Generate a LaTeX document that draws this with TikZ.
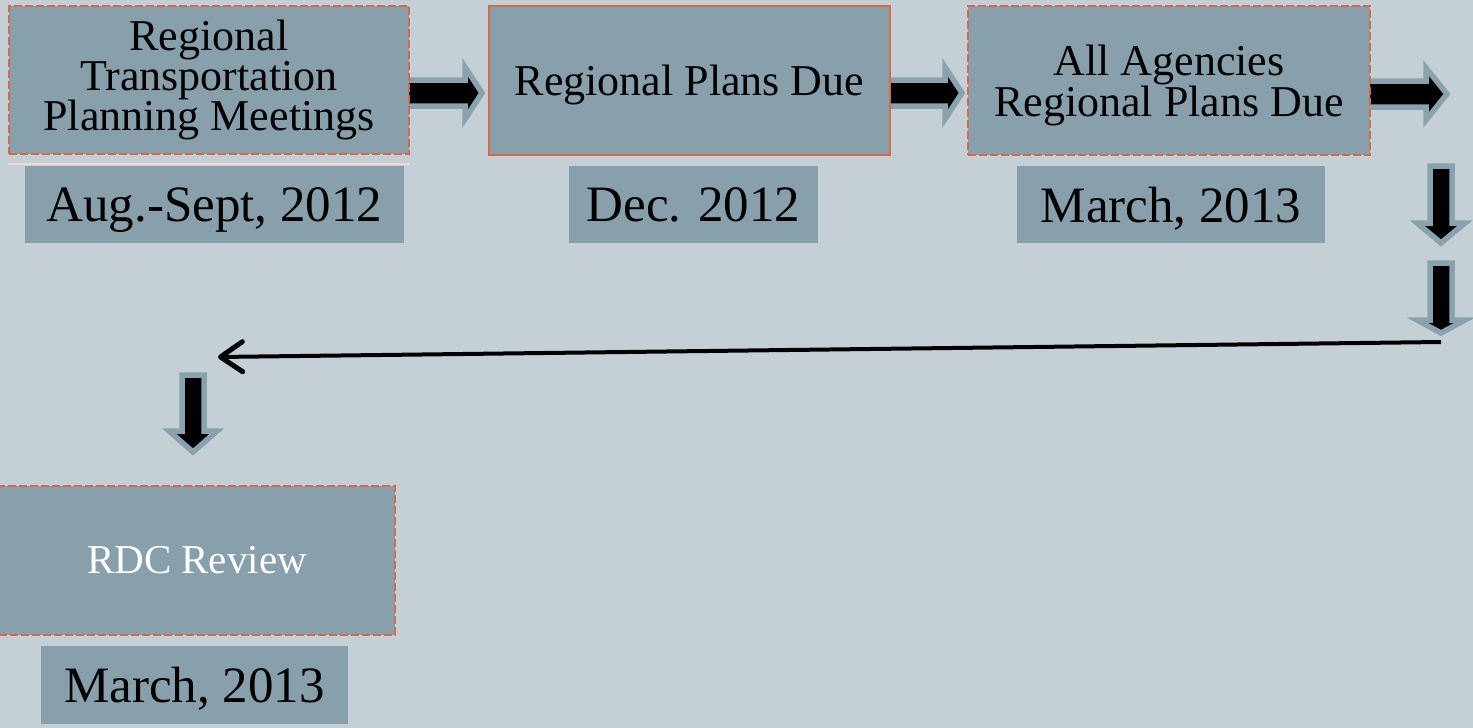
\documentclass[tikz,border=0pt]{standalone}
\usepackage{fontspec}
\setmainfont{Liberation Serif}
\usetikzlibrary{arrows.meta}
\definecolor{bgc}{RGB}{197,208,214}
\definecolor{boxc}{RGB}{135,160,172}
\definecolor{orangec}{RGB}{217,104,75}
\definecolor{arrgray}{RGB}{138,162,174}
\definecolor{pinkc}{RGB}{242,216,214}
\tikzset{
  mainbox/.style={fill=boxc, inner sep=0pt, align=center, font=\fontsize{44}{40}\selectfont},
  dashbox/.style={mainbox, preaction={draw=pinkc, line width=2pt}, draw=orangec, line width=2pt, dash pattern=on 8pt off 3pt},
  solidbox/.style={mainbox, draw=orangec, line width=2.5pt},
  datebox/.style={fill=boxc, inner sep=0pt, text depth=0pt, font=\fontsize{51}{51}\selectfont},
  blockarrow/.style={fill=black, draw=arrgray, line width=5.5pt, line join=miter},
  linkarrow/.style={draw=black, line width=4pt, -{Straight Barb[length=22pt,width=30pt,line width=5pt,round]}}
}
\newcommand\RArrowShape[4]{% left x, head base x, tip x, centre y
  \draw[blockarrow] (#1,#4-13) -- (#2,#4-13) -- (#2,#4-26) -- (#3,#4) -- (#2,#4+26) -- (#2,#4+13) -- (#1,#4+13) -- cycle;}
\newcommand\DArrowShape[4]{% centre x, top y, head base y, tip y
  \draw[blockarrow] (#1-11,#2) -- (#1-11,#3) -- (#1-24,#3) -- (#1,#4) -- (#1+24,#3) -- (#1+11,#3) -- (#1+11,#2) -- cycle;}
\begin{document}
\begin{tikzpicture}[x=1pt,y=-1pt]
\fill[bgc] (0,0) rectangle (1473,728);
\useasboundingbox (0,0) rectangle (1473,728);
% block arrows (drawn first so boxes cover their tails)
\RArrowShape{404}{465}{482}{93}
\RArrowShape{885}{945}{962}{93}
\RArrowShape{1365}{1426}{1447}{94}
\DArrowShape{1441}{166}{223}{243}
\DArrowShape{1441}{263}{320}{333}
\DArrowShape{193}{375}{431}{452}
% pink underline
\draw[pinkc, line width=2pt] (8,164) -- (410,164);
% boxes
\node[dashbox, minimum width=400pt, minimum height=148pt] (b1) at (209,80) {Regional\\Transportation\\Planning Meetings};
\node[solidbox, minimum width=401pt, minimum height=149pt, text depth=0pt] (b2) at (689.5,80.5) {Regional Plans Due};
\node[dashbox, minimum width=402pt, minimum height=149pt, text depth=0pt] (b3) at (1169,80.5) {All Agencies\\Regional Plans Due};
\node[dashbox, minimum width=396pt, minimum height=149pt, text=white, font=\fontsize{41}{41}\selectfont] (b4) at (197,560.5) {RDC Review};
% date boxes
\node[datebox, minimum width=379pt, minimum height=77pt] (d1) at (214.5,204.5) {Aug.-Sept, 2012};
\node[datebox, minimum width=249pt, minimum height=77pt] (d2) at (693.5,204.5) {Dec. 2012};
\node[datebox, minimum width=308pt, minimum height=77pt] (d3) at (1171,204.5) {March, 2013};
\node[datebox, minimum width=307pt, minimum height=78pt] (d4) at (194.5,685) {March, 2013};
% long return arrow
\coordinate (ls) at (1441,342);
\coordinate (le) at (218,357);
\draw[linkarrow] (ls) -- (le);
\end{tikzpicture}
\end{document}
